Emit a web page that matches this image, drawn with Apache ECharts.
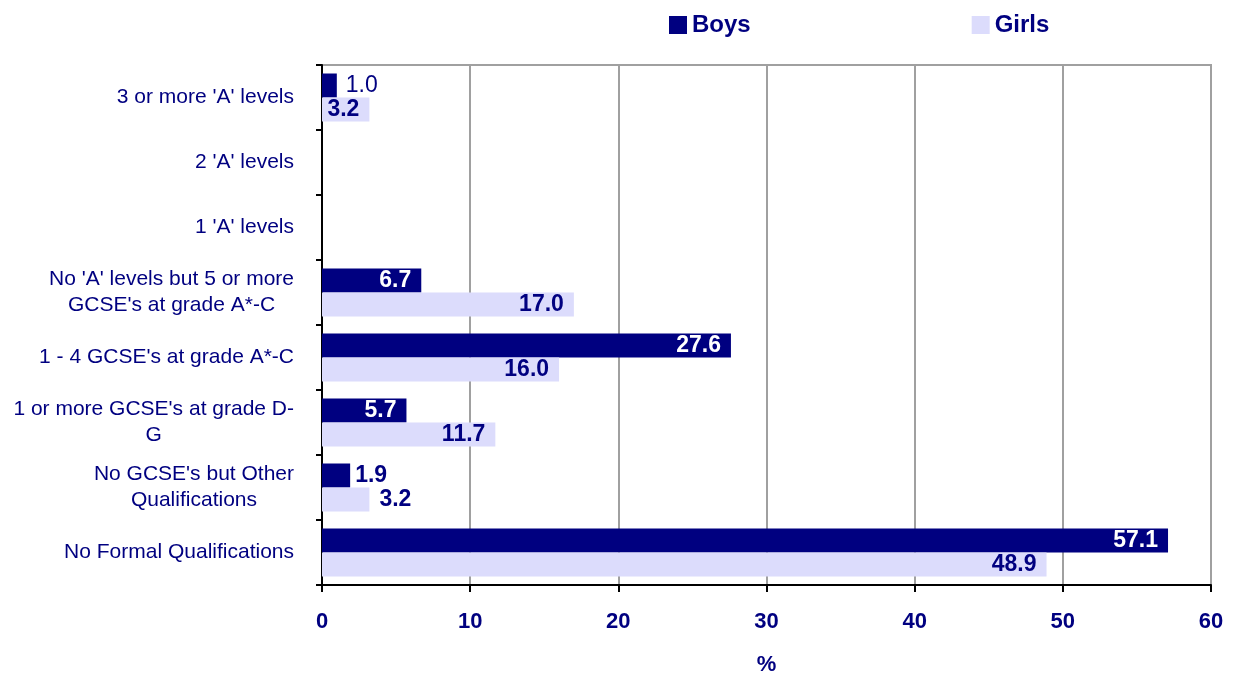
<!DOCTYPE html>
<html>
<head>
<meta charset="utf-8">
<script src="https://cdn.jsdelivr.net/npm/echarts@6/dist/echarts.min.js"></script>
<style>
  html, body { margin: 0; padding: 0; background: #fff; }
  #chart { width: 1233px; height: 681px; }
</style>
</head>
<body>
<div id="chart"></div>
<script>
  // categories, top to bottom
  const categories = [
    "3 or more 'A' levels",
    "2 'A' levels",
    "1 'A' levels",
    "No 'A' levels but 5 or more\nGCSE's at grade A*-C",
    "1 - 4 GCSE's at grade A*-C",
    "1 or more GCSE's at grade D-\nG",
    "No GCSE's but Other\nQualifications",
    'No Formal Qualifications'
  ]
  const boys = [1.0, null, null, 6.7, 27.6, 5.7, 1.9, 57.1]
  const girls = [3.2, null, null, 17.0, 16.0, 11.7, 3.2, 48.9]
  const xTicks = [0, 10, 20, 30, 40, 50, 60]

  const NAVY = '#000080'
  const LILAC = '#dcdcfc'
  const FONT = '"Liberation Sans", Arial, sans-serif'

  /** labels that sit outside the bar end */
  const outsideBoys = { 0: { fontWeight: 'normal', distance: 9 }, 6: { distance: 5 } }
  const outsideGirls = { 6: { distance: 10 } }

  function buildData(values, outside, insideColor) {
    return values.map((v, i) => {
      if (v === null) return '-'
      if (outside[i]) {
        return {
          value: v,
          label: Object.assign({ position: 'right', color: NAVY }, outside[i])
        }
      }
      return { value: v, label: { position: 'insideRight', distance: 10, color: insideColor } }
    })
  }

  const chart = echarts.init(document.getElementById('chart'))
  chart.setOption({
    animation: false,
    textStyle: { fontFamily: FONT },
    legend: {
      left: 664,
      top: 8,
      itemWidth: 18,
      itemHeight: 18,
      itemGap: 221,
      icon: 'rect',
      textStyle: { color: NAVY, fontSize: 24, fontWeight: 'bold', fontFamily: FONT },
      data: ['Boys', 'Girls']
    },
    grid: {
      left: 322,
      right: 22,
      top: 65,
      bottom: 94,
      show: true,
      borderColor: '#a0a0a0',
      borderWidth: 2
    },
    xAxis: {
      type: 'value',
      min: xTicks[0],
      max: xTicks[xTicks.length - 1],
      interval: 10,
      name: '%',
      nameLocation: 'middle',
      nameGap: 69,
      nameTextStyle: { color: NAVY, fontSize: 22, fontWeight: 'bold', fontFamily: FONT },
      axisLine: { show: true, lineStyle: { color: '#000', width: 2 } },
      axisTick: { show: true, length: 7, lineStyle: { color: '#000', width: 2 } },
      axisLabel: { color: NAVY, fontSize: 22, fontWeight: 'bold', margin: 26, fontFamily: FONT },
      splitLine: { show: true, lineStyle: { color: '#a0a0a0', width: 2 } }
    },
    yAxis: {
      type: 'category',
      inverse: true,
      data: categories,
      axisLine: { show: true, lineStyle: { color: '#000', width: 2 } },
      axisTick: { show: true, length: 6, lineStyle: { color: '#000', width: 2 } },
      axisLabel: {
        margin: 28,
        formatter: v => '{c|' + v + '}',
        rich: {
          c: { align: 'center', color: NAVY, fontSize: 21, lineHeight: 26, fontFamily: FONT }
        }
      }
    },
    series: [
      {
        name: 'Boys',
        type: 'bar',
        barWidth: 24,
        barGap: '0%',
        itemStyle: { color: NAVY },
        label: {
          show: true,
          fontSize: 23,
          fontWeight: 'bold',
          fontFamily: FONT,
          formatter: p => p.value.toFixed(1)
        },
        data: buildData(boys, outsideBoys, '#fff')
      },
      {
        name: 'Girls',
        type: 'bar',
        barWidth: 24,
        barGap: '0%',
        itemStyle: { color: LILAC },
        label: {
          show: true,
          fontSize: 23,
          fontWeight: 'bold',
          fontFamily: FONT,
          formatter: p => p.value.toFixed(1)
        },
        data: buildData(girls, outsideGirls, NAVY)
      }
    ]
  })
</script>
</body>
</html>
